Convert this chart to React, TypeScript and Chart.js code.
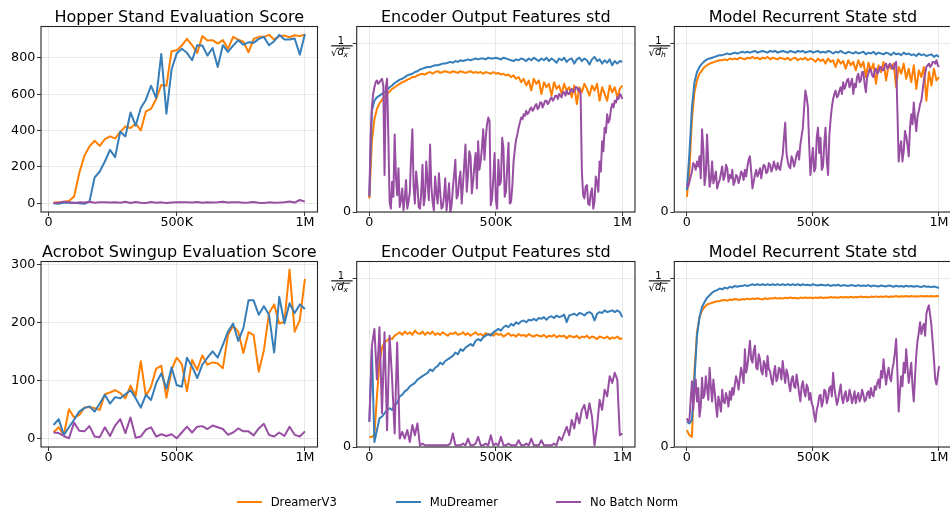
import React, { useEffect, useRef } from 'react';
import { Chart, registerables } from 'chart.js';

Chart.register(...registerables);

const FONT = '"DejaVu Sans", sans-serif';
const ORANGE = '#ff7f00';
const BLUE = '#377eb8';
const PURPLE = '#984ea3';
const GRID = 'rgba(0,0,0,0.085)';
const TICK = '#333333';
const FRAME = '#262626';

const CANVAS_W = 960;
const CANVAS_H = 510;
const Y_AXIS_W = 40;
const X_AXIS_H = 30;

// environment steps: evaluations every 20K, std logs every 10K (5K for the finer runs)
const EVAL_STEPS = Array.from({ length: 50 }, (_, i) => (i + 1) * 20000);
const STD_STEPS = Array.from({ length: 101 }, (_, i) => i * 10000);
const STD_FINE_STEPS = Array.from({ length: 201 }, (_, i) => i * 5000);

const X_TICKS = [0, 500000, 1000000];
const X_TICK_LABELS = ['0', '500K', '1M'];
const HOPPER_Y_TICKS = [0, 200, 400, 600, 800];
const ACROBOT_Y_TICKS = [0, 100, 200, 300];
const STD_Y_TICKS = [0, 1];

// Hopper Stand evaluation score
const HOPPER_DREAMER = [
  4, 5, 9, 13, 37, 165, 261, 313, 344, 316,
  353, 368, 357, 393, 423, 414, 438, 401, 506, 520,
  574, 651, 647, 837, 842, 868, 905, 870, 828, 920,
  896, 898, 879, 898, 850, 916, 901, 890, 831, 905,
  916, 916, 927, 901, 920, 923, 914, 925, 920, 929,
];
const HOPPER_MUDREAMER = [
  0, -3, 3, 3, 3, 0, -3, 9, 142, 175,
  230, 294, 254, 395, 368, 500, 427, 524, 570, 647,
  579, 822, 493, 736, 824, 851, 828, 787, 870, 868,
  813, 855, 750, 870, 833, 868, 897, 873, 886, 883,
  905, 916, 870, 892, 927, 901, 901, 907, 818, 932,
];
const HOPPER_NOBN = [
  2, 3, 8, 6, 2, 5, 4, 8, 3, 5,
  6, 4, 5, 3, 8, 2, 7, 3, 2, 7,
  3, 5, 2, 4, 5, 5, 6, 4, 7, 3,
  5, 4, 6, 9, 4, 6, 5, 3, 4, 7,
  3, 2, 5, 3, 4, 6, 10, 4, 18, 9,
];

// Acrobot Swingup evaluation score
const ACROBOT_DREAMER = [
  11.5, 20, 7, 51, 37, 41, 54, 55, 53, 50,
  77, 80, 84, 79, 70, 92, 74, 134, 74, 90,
  121, 126, 71, 119, 140, 129, 82, 136, 119, 144,
  128, 132, 130, 122, 179, 195, 185, 148, 184, 179,
  116, 153, 217, 232, 199, 202, 292, 185, 205, 276,
];
const ACROBOT_MUDREAMER = [
  24, 34, 7, 20, 33, 47, 53, 56, 47, 61,
  76, 61, 72, 70, 77, 84, 70, 54, 76, 67,
  96, 113, 87, 123, 93, 90, 140, 125, 105, 128,
  140, 151, 140, 162, 185, 199, 169, 191, 239, 239,
  214, 229, 214, 149, 245, 199, 234, 217, 232, 224,
];
const ACROBOT_NOBN = [
  11, 10, 5, 1, 28, 14, 13, 22, 4, 3,
  20, 5, 23, 34, 10, 37, 2, 4, 16, 20,
  4, 8, 5, 8, 1, 11, 21, 11, 21, 22,
  17, 23, 20, 17, 7, 11, 18, 13, 13, 6,
  18, 26, 7, 4, 11, 5, 21, 7, 4, 13,
];

// Hopper: encoder output features std (in units of 1/sqrt(d_x))
const HOP_ENC_DREAMER = [
  0.08, 0.42, 0.55, 0.61, 0.645, 0.665, 0.685, 0.70, 0.715, 0.73,
  0.74, 0.75, 0.76, 0.77, 0.775, 0.785, 0.79, 0.80, 0.80, 0.81,
  0.815, 0.82, 0.815, 0.825, 0.83, 0.82, 0.83, 0.835, 0.825, 0.83,
  0.835, 0.83, 0.825, 0.835, 0.83, 0.825, 0.835, 0.83, 0.825, 0.83,
  0.835, 0.825, 0.83, 0.825, 0.83, 0.82, 0.83, 0.825, 0.82, 0.83,
  0.82, 0.825, 0.815, 0.82, 0.81, 0.815, 0.80, 0.81, 0.79, 0.80,
  0.77, 0.79, 0.75, 0.78, 0.72, 0.79, 0.76, 0.78, 0.70, 0.77,
  0.74, 0.76, 0.69, 0.77, 0.73, 0.75, 0.70, 0.76, 0.72, 0.74,
  0.68, 0.75, 0.64, 0.74, 0.71, 0.76, 0.73, 0.69, 0.75, 0.72,
  0.76, 0.66, 0.74, 0.70, 0.66, 0.75, 0.71, 0.74, 0.68, 0.73,
  0.75,
];
const HOP_ENC_MUDREAMER = [
  0.10, 0.60, 0.66, 0.68, 0.69, 0.70, 0.71, 0.725, 0.74, 0.75,
  0.765, 0.775, 0.785, 0.79, 0.80, 0.81, 0.815, 0.82, 0.83, 0.835,
  0.845, 0.85, 0.855, 0.86, 0.86, 0.865, 0.87, 0.87, 0.875, 0.88,
  0.88, 0.885, 0.89, 0.885, 0.895, 0.89, 0.90, 0.895, 0.90, 0.905,
  0.90, 0.905, 0.91, 0.905, 0.91, 0.91, 0.905, 0.915, 0.91, 0.91,
  0.915, 0.91, 0.905, 0.915, 0.91, 0.905, 0.90, 0.895, 0.905, 0.90,
  0.91, 0.905, 0.895, 0.91, 0.90, 0.915, 0.905, 0.895, 0.91, 0.90,
  0.915, 0.895, 0.91, 0.90, 0.885, 0.91, 0.90, 0.915, 0.89, 0.905,
  0.91, 0.88, 0.905, 0.915, 0.895, 0.91, 0.90, 0.875, 0.905, 0.92,
  0.895, 0.905, 0.88, 0.90, 0.885, 0.905, 0.87, 0.895, 0.88, 0.895,
  0.89,
];
// logged every 5K steps
const HOP_ENC_NOBN = [
  0.09, 0.45, 0.62, 0.70, 0.74, 0.77, 0.78, 0.76, 0.77, 0.78,
  0.79, 0.75, 0.22, 0.74, 0.79, 0.45, 0.06, 0.02, 0.18, 0.09,
  0.46, 0.21, 0.10, 0.26, 0.03, 0.07, 0.14, 0.01, 0.08, 0.19,
  0.02, 0.06, 0.12, 0.33, 0.49, 0.15, 0.05, 0.24, 0.16, 0.03,
  0.02, 0.11, 0.28, 0.04, 0.09, 0.30, 0.18, 0.07, 0.40, 0.15,
  0.06, 0.01, 0.21, 0.11, 0.05, 0.23, 0.12, 0.02, 0.03, 0.09,
  0.20, 0.01, 0.08, 0.17, 0.00, 0.04, 0.14, 0.22, 0.31, 0.08,
  0.10, 0.19, 0.24, 0.05, 0.16, 0.28, 0.40, 0.12, 0.22, 0.36,
  0.33, 0.11, 0.18, 0.27, 0.35, 0.14, 0.42, 0.25, 0.30, 0.38,
  0.49, 0.31, 0.44, 0.52, 0.56, 0.54, 0.04, 0.08, 0.20, 0.35,
  0.07, 0.02, 0.31, 0.16, 0.18, 0.44, 0.38, 0.09, 0.12, 0.27,
  0.41, 0.05, 0.06, 0.15, 0.30, 0.37, 0.43, 0.46, 0.50, 0.53,
  0.56, 0.55, 0.58, 0.57, 0.60, 0.58, 0.59, 0.61, 0.62, 0.60,
  0.61, 0.63, 0.64, 0.61, 0.62, 0.65, 0.65, 0.62, 0.64, 0.66,
  0.66, 0.64, 0.65, 0.67, 0.68, 0.66, 0.67, 0.69, 0.69, 0.67,
  0.70, 0.69, 0.68, 0.71, 0.71, 0.69, 0.72, 0.70, 0.70, 0.72,
  0.73, 0.71, 0.72, 0.74, 0.74, 0.72, 0.73, 0.70, 0.24, 0.10,
  0.08, 0.15, 0.16, 0.05, 0.04, 0.11, 0.14, 0.02, 0.06, 0.21,
  0.18, 0.12, 0.30, 0.24, 0.42, 0.36, 0.50, 0.47, 0.58, 0.53,
  0.55, 0.61, 0.64, 0.62, 0.66, 0.65, 0.68, 0.67, 0.70, 0.69,
  0.67,
];

// Hopper: model recurrent state std (in units of 1/sqrt(d_h))
const HOP_REC_DREAMER = [
  0.09, 0.25, 0.55, 0.71, 0.78, 0.82, 0.84, 0.86, 0.87, 0.88,
  0.885, 0.89, 0.895, 0.90, 0.90, 0.905, 0.90, 0.91, 0.905, 0.91,
  0.905, 0.915, 0.91, 0.905, 0.915, 0.91, 0.92, 0.91, 0.915, 0.905,
  0.915, 0.91, 0.92, 0.905, 0.915, 0.91, 0.905, 0.915, 0.91, 0.905,
  0.915, 0.90, 0.91, 0.915, 0.90, 0.91, 0.905, 0.915, 0.90, 0.91,
  0.905, 0.89, 0.91, 0.895, 0.905, 0.88, 0.91, 0.89, 0.90, 0.86,
  0.905, 0.88, 0.895, 0.85, 0.90, 0.87, 0.89, 0.84, 0.90, 0.86,
  0.89, 0.80, 0.885, 0.84, 0.88, 0.76, 0.87, 0.83, 0.89, 0.78,
  0.87, 0.85, 0.88, 0.74, 0.86, 0.82, 0.88, 0.79, 0.85, 0.77,
  0.87, 0.73, 0.84, 0.80, 0.86, 0.66, 0.83, 0.75, 0.85, 0.78,
  0.80,
];
const HOP_REC_MUDREAMER = [
  0.13, 0.35, 0.62, 0.77, 0.83, 0.86, 0.88, 0.895, 0.905, 0.91,
  0.915, 0.92, 0.925, 0.93, 0.93, 0.935, 0.94, 0.935, 0.94, 0.945,
  0.94, 0.945, 0.95, 0.945, 0.95, 0.945, 0.95, 0.955, 0.945, 0.95,
  0.955, 0.95, 0.945, 0.955, 0.95, 0.955, 0.945, 0.95, 0.955, 0.95,
  0.945, 0.955, 0.95, 0.945, 0.955, 0.95, 0.955, 0.945, 0.95, 0.955,
  0.945, 0.95, 0.955, 0.945, 0.95, 0.945, 0.955, 0.95, 0.94, 0.95,
  0.945, 0.955, 0.945, 0.94, 0.95, 0.945, 0.94, 0.95, 0.94, 0.945,
  0.95, 0.935, 0.945, 0.94, 0.95, 0.935, 0.945, 0.94, 0.935, 0.945,
  0.94, 0.93, 0.945, 0.935, 0.94, 0.93, 0.945, 0.935, 0.94, 0.93,
  0.935, 0.925, 0.94, 0.93, 0.935, 0.925, 0.93, 0.935, 0.92, 0.93,
  0.92,
];
// logged every 5K steps
const HOP_REC_NOBN = [
  0.17, 0.15, 0.18, 0.21, 0.24, 0.29, 0.28, 0.25, 0.30, 0.27,
  0.33, 0.20, 0.49, 0.38, 0.16, 0.22, 0.46, 0.29, 0.15, 0.19,
  0.30, 0.17, 0.20, 0.24, 0.14, 0.17, 0.19, 0.23, 0.27, 0.19,
  0.21, 0.28, 0.26, 0.18, 0.22, 0.20, 0.25, 0.16, 0.18, 0.22,
  0.21, 0.17, 0.20, 0.24, 0.23, 0.19, 0.25, 0.21, 0.27, 0.31,
  0.33, 0.24, 0.14, 0.18, 0.22, 0.25, 0.21, 0.23, 0.26, 0.20,
  0.25, 0.28, 0.27, 0.23, 0.24, 0.29, 0.28, 0.24, 0.26, 0.30,
  0.27, 0.25, 0.29, 0.26, 0.25, 0.30, 0.34, 0.44, 0.53, 0.35,
  0.30, 0.27, 0.26, 0.33, 0.31, 0.27, 0.30, 0.34, 0.36, 0.31,
  0.40, 0.45, 0.50, 0.62, 0.72, 0.68, 0.62, 0.40, 0.22, 0.31,
  0.38, 0.24, 0.26, 0.44, 0.50, 0.35, 0.44, 0.25, 0.27, 0.41,
  0.50, 0.30, 0.22, 0.45, 0.55, 0.62, 0.67, 0.70, 0.72, 0.68,
  0.69, 0.72, 0.74, 0.70, 0.77, 0.73, 0.75, 0.78, 0.79, 0.74,
  0.76, 0.79, 0.70, 0.76, 0.74, 0.80, 0.82, 0.77, 0.78, 0.83,
  0.83, 0.76, 0.71, 0.80, 0.82, 0.85, 0.84, 0.81, 0.80, 0.84,
  0.85, 0.82, 0.83, 0.86, 0.86, 0.84, 0.84, 0.87, 0.88, 0.85,
  0.86, 0.88, 0.87, 0.85, 0.85, 0.88, 0.89, 0.60, 0.30, 0.38,
  0.42, 0.30, 0.36, 0.48, 0.45, 0.40, 0.33, 0.50, 0.58, 0.52,
  0.65, 0.55, 0.48, 0.57, 0.60, 0.64, 0.66, 0.72, 0.78, 0.82,
  0.86, 0.87, 0.88, 0.86, 0.87, 0.89, 0.89, 0.88, 0.90, 0.87,
  0.86,
];

// Acrobot: encoder output features std (in units of 1/sqrt(d_x))
const ACR_ENC_DREAMER = [
  0.06, 0.06, 0.07, 0.30, 0.50, 0.59, 0.62, 0.63, 0.645, 0.64,
  0.66, 0.67, 0.68, 0.665, 0.685, 0.67, 0.68, 0.665, 0.69, 0.675,
  0.67, 0.685, 0.665, 0.68, 0.67, 0.685, 0.665, 0.675, 0.665, 0.68,
  0.67, 0.66, 0.675, 0.67, 0.68, 0.665, 0.67, 0.68, 0.665, 0.675,
  0.66, 0.67, 0.68, 0.665, 0.67, 0.66, 0.675, 0.665, 0.67, 0.66,
  0.675, 0.665, 0.67, 0.655, 0.665, 0.675, 0.66, 0.665, 0.655, 0.67,
  0.66, 0.665, 0.655, 0.67, 0.66, 0.655, 0.665, 0.66, 0.655, 0.665,
  0.65, 0.66, 0.655, 0.665, 0.65, 0.66, 0.655, 0.66, 0.645, 0.66,
  0.655, 0.65, 0.66, 0.645, 0.655, 0.65, 0.66, 0.645, 0.655, 0.65,
  0.64, 0.655, 0.65, 0.645, 0.655, 0.64, 0.65, 0.645, 0.655, 0.64,
  0.645,
];
const ACR_ENC_MUDREAMER = [
  0.15, 0.58, 0.03, 0.10, 0.17, 0.18, 0.20, 0.22, 0.23, 0.22,
  0.25, 0.26, 0.30, 0.31, 0.33, 0.34, 0.36, 0.37, 0.38, 0.40,
  0.41, 0.42, 0.43, 0.44, 0.46, 0.45, 0.47, 0.48, 0.50, 0.49,
  0.51, 0.52, 0.53, 0.54, 0.56, 0.55, 0.58, 0.57, 0.59, 0.60,
  0.61, 0.60, 0.63, 0.64, 0.63, 0.65, 0.66, 0.67, 0.66, 0.68,
  0.69, 0.70, 0.69, 0.71, 0.72, 0.71, 0.73, 0.72, 0.74, 0.73,
  0.745, 0.75, 0.74, 0.755, 0.75, 0.76, 0.75, 0.765, 0.76, 0.77,
  0.755, 0.77, 0.775, 0.765, 0.78, 0.77, 0.775, 0.785, 0.74, 0.78,
  0.785, 0.79, 0.78, 0.795, 0.79, 0.78, 0.795, 0.80, 0.79, 0.75,
  0.79, 0.80, 0.795, 0.81, 0.80, 0.805, 0.81, 0.80, 0.81, 0.80,
  0.77,
];
const ACR_ENC_NOBN = [
  0.15, 0.60, 0.70, 0.40, 0.71, 0.20, 0.68, 0.10, 0.66, 0.40,
  0.08, 0.62, 0.05, 0.09, 0.05, 0.10, 0.03, 0.13, 0.07, 0.14,
  0.01, 0.02, 0.01, 0.01, 0.01, 0.01, 0.01, 0.01, 0.01, 0.01,
  0.01, 0.01, 0.02, 0.08, 0.01, 0.01, 0.01, 0.02, 0.01, 0.05,
  0.01, 0.01, 0.02, 0.06, 0.01, 0.01, 0.02, 0.01, 0.07, 0.01,
  0.02, 0.01, 0.06, 0.01, 0.01, 0.02, 0.01, 0.01, 0.01, 0.04,
  0.01, 0.01, 0.02, 0.01, 0.05, 0.01, 0.01, 0.01, 0.04, 0.01,
  0.01, 0.01, 0.01, 0.02, 0.01, 0.06, 0.04, 0.08, 0.12, 0.07,
  0.16, 0.11, 0.20, 0.14, 0.22, 0.25, 0.17, 0.26, 0.18, 0.01,
  0.12, 0.28, 0.22, 0.34, 0.30, 0.42, 0.38, 0.44, 0.40, 0.07,
  0.08,
];

// Acrobot: model recurrent state std (in units of 1/sqrt(d_h))
const ACR_REC_DREAMER = [
  0.10, 0.07, 0.06, 0.45, 0.68, 0.77, 0.81, 0.83, 0.845, 0.85,
  0.855, 0.86, 0.865, 0.865, 0.87, 0.872, 0.868, 0.875, 0.872, 0.878,
  0.875, 0.872, 0.878, 0.875, 0.88, 0.876, 0.88, 0.878, 0.882, 0.878,
  0.875, 0.882, 0.878, 0.882, 0.88, 0.885, 0.88, 0.884, 0.88, 0.885,
  0.882, 0.886, 0.882, 0.885, 0.88, 0.886, 0.883, 0.887, 0.884, 0.886,
  0.882, 0.887, 0.884, 0.888, 0.884, 0.887, 0.885, 0.889, 0.886, 0.888,
  0.885, 0.89, 0.886, 0.889, 0.886, 0.891, 0.887, 0.89, 0.888, 0.892,
  0.888, 0.891, 0.887, 0.892, 0.889, 0.893, 0.889, 0.892, 0.89, 0.894,
  0.89, 0.893, 0.891, 0.895, 0.891, 0.894, 0.892, 0.895, 0.891, 0.895,
  0.892, 0.894, 0.893, 0.896, 0.892, 0.895, 0.893, 0.896, 0.893, 0.895,
  0.894,
];
const ACR_REC_MUDREAMER = [
  0.15, 0.14, 0.16, 0.40, 0.66, 0.77, 0.83, 0.86, 0.885, 0.90,
  0.915, 0.925, 0.93, 0.94, 0.935, 0.945, 0.94, 0.95, 0.945, 0.955,
  0.95, 0.955, 0.955, 0.96, 0.955, 0.96, 0.965, 0.96, 0.965, 0.96,
  0.965, 0.96, 0.965, 0.96, 0.965, 0.96, 0.965, 0.96, 0.965, 0.96,
  0.965, 0.96, 0.965, 0.96, 0.965, 0.958, 0.965, 0.96, 0.962, 0.958,
  0.965, 0.96, 0.958, 0.962, 0.96, 0.958, 0.962, 0.955, 0.96, 0.958,
  0.962, 0.955, 0.96, 0.958, 0.955, 0.96, 0.958, 0.955, 0.96, 0.955,
  0.958, 0.955, 0.96, 0.952, 0.958, 0.955, 0.952, 0.958, 0.955, 0.952,
  0.958, 0.955, 0.95, 0.956, 0.952, 0.955, 0.95, 0.956, 0.952, 0.955,
  0.95, 0.955, 0.952, 0.948, 0.955, 0.95, 0.952, 0.948, 0.952, 0.948,
  0.943,
];
// logged every 5K steps
const ACR_REC_NOBN = [
  0.17, 0.15, 0.16, 0.28, 0.39, 0.22, 0.33, 0.40, 0.27, 0.35,
  0.18, 0.24, 0.41, 0.29, 0.31, 0.42, 0.35, 0.28, 0.47, 0.36,
  0.27, 0.40, 0.33, 0.25, 0.18, 0.30, 0.26, 0.21, 0.34, 0.27,
  0.26, 0.32, 0.29, 0.24, 0.33, 0.28, 0.35, 0.31, 0.37, 0.42,
  0.39, 0.34, 0.41, 0.47, 0.43, 0.38, 0.58, 0.44, 0.48, 0.55,
  0.63, 0.52, 0.50, 0.57, 0.60, 0.47, 0.46, 0.55, 0.52, 0.45,
  0.43, 0.51, 0.49, 0.42, 0.54, 0.46, 0.45, 0.40, 0.37, 0.44,
  0.48, 0.39, 0.41, 0.47, 0.46, 0.40, 0.51, 0.44, 0.38, 0.46,
  0.43, 0.37, 0.33, 0.40, 0.42, 0.36, 0.35, 0.43, 0.38, 0.32,
  0.27, 0.36, 0.39, 0.33, 0.30, 0.37, 0.35, 0.28, 0.32, 0.26,
  0.24, 0.19, 0.15, 0.22, 0.25, 0.30, 0.31, 0.24, 0.27, 0.34,
  0.33, 0.26, 0.29, 0.35, 0.36, 0.30, 0.44, 0.35, 0.30, 0.25,
  0.28, 0.33, 0.37, 0.29, 0.26, 0.31, 0.33, 0.27, 0.28, 0.34,
  0.31, 0.26, 0.29, 0.33, 0.26, 0.30, 0.32, 0.27, 0.29, 0.34,
  0.31, 0.27, 0.28, 0.32, 0.33, 0.29, 0.35, 0.31, 0.30, 0.36,
  0.34, 0.38, 0.40, 0.35, 0.45, 0.41, 0.52, 0.44, 0.37, 0.43,
  0.47, 0.41, 0.39, 0.46, 0.50, 0.56, 0.64, 0.45, 0.21, 0.33,
  0.42, 0.36, 0.50, 0.44, 0.58, 0.47, 0.38, 0.44, 0.50, 0.36,
  0.27, 0.42, 0.55, 0.63, 0.68, 0.74, 0.67, 0.71, 0.73, 0.66,
  0.79, 0.82, 0.84, 0.78, 0.72, 0.62, 0.52, 0.40, 0.37, 0.42,
  0.48,
];

type Series = { label: string; values: number[]; xs: number[]; color: string; order: number };
type Box = { l: number; t: number; r: number; b: number };
type Panel = {
  title: string;
  box: Box;
  xMin: number;
  xMax: number;
  yMin: number;
  yMax: number;
  yTicks: number[];
  frac?: string;
  series: Series[];
};

const trio = (
  d: number[],
  m: number[],
  n: number[],
  xs: number[],
  nxs: number[] = xs,
): Series[] => [
  { label: 'DreamerV3', values: d, xs, color: ORANGE, order: 3 },
  { label: 'MuDreamer', values: m, xs, color: BLUE, order: 2 },
  { label: 'No Batch Norm', values: n, xs: nxs, color: PURPLE, order: 1 },
];

const ROW_TOP = [26.5, 261.5];
const ROW_BOTTOM = [212, 447];
const COL_LEFT = [41, 356.7, 674.3];
const COL_RIGHT = [317.5, 635, 951.6];
const box = (row: number, col: number): Box => ({
  l: COL_LEFT[col],
  t: ROW_TOP[row],
  r: COL_RIGHT[col],
  b: ROW_BOTTOM[row],
});

const PANELS: Panel[] = [
  {
    title: 'Hopper Stand Evaluation Score',
    box: box(0, 0), xMin: -29000, xMax: 1049000,
    yMin: -48, yMax: 973, yTicks: HOPPER_Y_TICKS,
    series: trio(HOPPER_DREAMER, HOPPER_MUDREAMER, HOPPER_NOBN, EVAL_STEPS),
  },
  {
    title: 'Encoder Output Features std',
    box: box(0, 1), xMin: -50000, xMax: 1050000,
    yMin: 0, yMax: 1.1, yTicks: STD_Y_TICKS, frac: 'x',
    series: trio(HOP_ENC_DREAMER, HOP_ENC_MUDREAMER, HOP_ENC_NOBN, STD_STEPS, STD_FINE_STEPS),
  },
  {
    title: 'Model Recurrent State std',
    box: box(0, 2), xMin: -50000, xMax: 1050000,
    yMin: 0, yMax: 1.1, yTicks: STD_Y_TICKS, frac: 'h',
    series: trio(HOP_REC_DREAMER, HOP_REC_MUDREAMER, HOP_REC_NOBN, STD_STEPS, STD_FINE_STEPS),
  },
  {
    title: 'Acrobot Swingup Evaluation Score',
    box: box(1, 0), xMin: -29000, xMax: 1049000,
    yMin: -14, yMax: 306, yTicks: ACROBOT_Y_TICKS,
    series: trio(ACROBOT_DREAMER, ACROBOT_MUDREAMER, ACROBOT_NOBN, EVAL_STEPS),
  },
  {
    title: 'Encoder Output Features std',
    box: box(1, 1), xMin: -50000, xMax: 1050000,
    yMin: 0, yMax: 1.1, yTicks: STD_Y_TICKS, frac: 'x',
    series: trio(ACR_ENC_DREAMER, ACR_ENC_MUDREAMER, ACR_ENC_NOBN, STD_STEPS),
  },
  {
    title: 'Model Recurrent State std',
    box: box(1, 2), xMin: -50000, xMax: 1050000,
    yMin: 0, yMax: 1.1, yTicks: STD_Y_TICKS, frac: 'h',
    series: trio(ACR_REC_DREAMER, ACR_REC_MUDREAMER, ACR_REC_NOBN, STD_STEPS, STD_FINE_STEPS),
  },
];

const LEGEND_ITEMS = [
  { label: 'DreamerV3', color: ORANGE, x: 236.7 },
  { label: 'MuDreamer', color: BLUE, x: 395.7 },
  { label: 'No Batch Norm', color: PURPLE, x: 556 },
];

// "1 / sqrt(d_sub)" drawn as a stacked fraction next to the y tick at 1
function drawFraction(ctx: CanvasRenderingContext2D, left: number, y: number, sub: string) {
  const barL = left - 25.5;
  const barR = left - 4;
  ctx.save();
  ctx.fillStyle = '#000';
  ctx.strokeStyle = '#000';
  ctx.lineWidth = 1.1;
  ctx.beginPath();
  ctx.moveTo(barL, y + 2.5);
  ctx.lineTo(barR, y + 2.5);
  ctx.stroke();
  ctx.textBaseline = 'alphabetic';
  ctx.textAlign = 'center';
  ctx.font = `10px ${FONT}`;
  ctx.fillText('1', (barL + barR) / 2 - 1, y + 0.2);
  ctx.textAlign = 'left';
  ctx.font = `10px ${FONT}`;
  ctx.fillText('\u221a', barL - 0.3, y + 12.6);
  ctx.font = `italic 10px ${FONT}`;
  ctx.fillText('d', barL + 6.2, y + 11.6);
  ctx.font = `italic 7.5px ${FONT}`;
  ctx.fillText(sub, barL + 12.3, y + 13.3);
  ctx.lineWidth = 0.8;
  ctx.beginPath();
  ctx.moveTo(barL + 5.8, y + 4.9);
  ctx.lineTo(barR - 2.5, y + 4.9);
  ctx.stroke();
  ctx.restore();
}

function buildChart(canvas: HTMLCanvasElement, p: Panel) {
  const framePlugin = {
    id: 'panelFrame',
    afterDraw(chart: any) {
      const { ctx, chartArea: a } = chart;
      ctx.save();
      ctx.strokeStyle = FRAME;
      ctx.lineWidth = 1.1;
      ctx.strokeRect(a.left, a.top, a.right - a.left, a.bottom - a.top);
      ctx.fillStyle = '#000';
      ctx.font = `16px ${FONT}`;
      ctx.textAlign = 'center';
      ctx.textBaseline = 'alphabetic';
      ctx.fillText(p.title, (a.left + a.right) / 2, a.top - 4.8);
      ctx.restore();
      if (p.frac) drawFraction(ctx, a.left, chart.scales.y.getPixelForValue(1), p.frac);
    },
  };

  const tickFont = { family: FONT, size: 12.7 };

  return new Chart(canvas, {
    type: 'line',
    data: {
      datasets: p.series.map((s) => ({
        label: s.label,
        data: s.values.map((v, i) => ({ x: s.xs[i], y: v })),
        borderColor: s.color,
        backgroundColor: s.color,
        borderWidth: 2,
        borderJoinStyle: 'round' as const,
        pointRadius: 0,
        tension: 0,
        fill: false,
        order: s.order,
      })),
    },
    options: {
      responsive: false,
      animation: false,
      devicePixelRatio: 1,
      events: [],
      layout: {
        padding: {
          left: p.box.l - Y_AXIS_W,
          top: p.box.t,
          right: CANVAS_W - p.box.r,
          bottom: CANVAS_H - p.box.b - X_AXIS_H,
        },
      },
      plugins: {
        legend: { display: false },
        title: { display: false },
        tooltip: { enabled: false },
      },
      scales: {
        x: {
          type: 'linear',
          min: p.xMin,
          max: p.xMax,
          afterBuildTicks: (s: any) => {
            s.ticks = X_TICKS.map((v) => ({ value: v }));
          },
          afterFit: (s: any) => {
            s.height = X_AXIS_H;
          },
          ticks: {
            callback: (v: any) => X_TICK_LABELS[X_TICKS.indexOf(Number(v))] ?? '',
            font: tickFont,
            color: '#000',
            padding: -1,
            maxRotation: 0,
            autoSkip: false,
          },
          grid: { color: GRID, tickColor: TICK, tickLength: 4, lineWidth: 1, tickWidth: 1 },
          border: { display: false },
        },
        y: {
          type: 'linear',
          min: p.yMin,
          max: p.yMax,
          afterBuildTicks: (s: any) => {
            s.ticks = p.yTicks.map((v) => ({ value: v }));
          },
          afterFit: (s: any) => {
            s.width = Y_AXIS_W;
          },
          ticks: {
            callback: (v: any) => (p.frac && Number(v) === 1 ? '' : String(v)),
            font: tickFont,
            color: '#000',
            padding: 1.7,
            autoSkip: false,
          },
          grid: { color: GRID, tickColor: TICK, tickLength: 4, lineWidth: 1, tickWidth: 1 },
          border: { display: false },
        },
      },
    } as any,
    plugins: [framePlugin],
  });
}

function PanelCanvas({ panel }: { panel: Panel }) {
  const ref = useRef<HTMLCanvasElement | null>(null);
  useEffect(() => {
    if (!ref.current) return;
    const chart = buildChart(ref.current, panel);
    return () => chart.destroy();
  }, [panel]);
  return (
    <canvas
      ref={ref}
      width={CANVAS_W}
      height={CANVAS_H}
      style={{ position: 'absolute', left: 0, top: 0, width: CANVAS_W, height: CANVAS_H }}
    />
  );
}

export default function App() {
  return (
    <div
      style={{
        position: 'absolute',
        left: 0,
        top: 0,
        width: 950,
        height: 510,
        overflow: 'hidden',
        background: '#fff',
      }}
    >
      {PANELS.map((p, i) => (
        <PanelCanvas key={i} panel={p} />
      ))}
      {LEGEND_ITEMS.map((it) => (
        <div
          key={it.label}
          style={{
            position: 'absolute',
            left: it.x,
            top: 495,
            height: 14,
            display: 'flex',
            alignItems: 'center',
            font: `11.6px ${FONT}`,
            color: '#000',
            whiteSpace: 'nowrap',
          }}
        >
          <span style={{ display: 'inline-block', width: 25, height: 2, background: it.color }} />
          <span style={{ marginLeft: 9 }}>{it.label}</span>
        </div>
      ))}
    </div>
  );
}
